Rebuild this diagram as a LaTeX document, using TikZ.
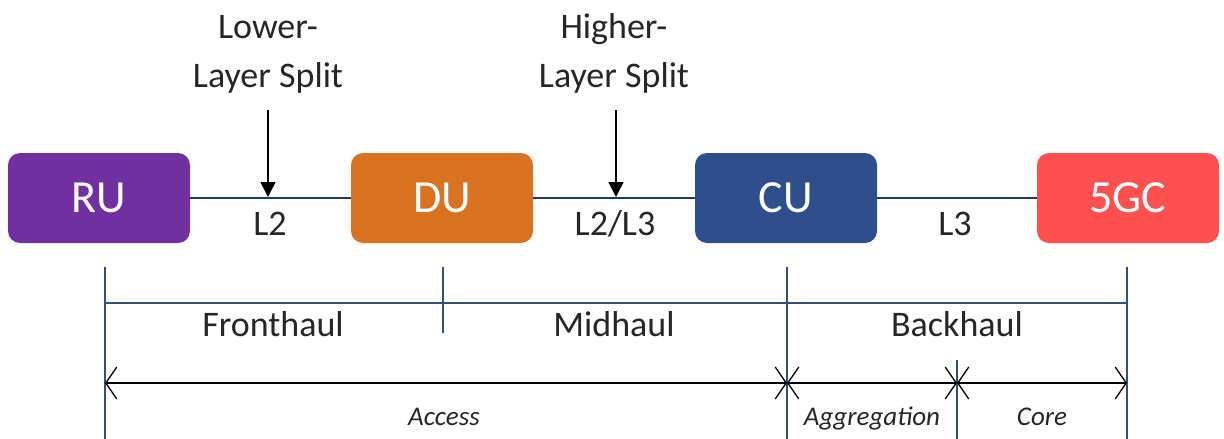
\documentclass[tikz,border=0pt]{standalone}
\usepackage{fontspec}
\setmainfont{Carlito}
\usetikzlibrary{arrows.meta,positioning}
\definecolor{ruPurple}{HTML}{7030A0}
\definecolor{duOrange}{HTML}{DA7321}
\definecolor{cuBlue}{HTML}{2F4E8C}
\definecolor{coreRed}{HTML}{FF5050}
\definecolor{linkNavy}{HTML}{1F3A60}
\definecolor{tickNavy}{HTML}{34507A}
\definecolor{txt}{HTML}{262626}

\begin{document}
\begin{tikzpicture}[x=1pt,y=-1pt,
    unit/.style={rounded corners=12pt, minimum width=182pt, minimum height=90pt,
        inner sep=0pt, text=white, font=\fontsize{46}{50}\selectfont},
    lbl/.style={text=txt, inner sep=0pt, font=\fontsize{36}{49}\selectfont},
    zone/.style={text=txt, inner sep=0pt, font=\itshape\fontsize{27}{30}\selectfont},
    link/.style={draw=linkNavy, line width=2.5pt},
    tick/.style={draw=tickNavy, line width=1.6pt},
    span/.style={draw=black, line width=1.3pt, {Straight Barb[length=11pt,width=32pt]}-{Straight Barb[length=11pt,width=32pt]}}
]
\useasboundingbox (0,0) rectangle (1224,439);

% units
\node[unit, fill=ruPurple] (ru) at (99, 198) {RU};
\node[unit, fill=duOrange] (du) at (442, 198) {DU};
\node[unit, fill=cuBlue] (cu) at (786, 198) {CU};
\node[unit, fill=coreRed] (gc) at (1128, 198) {5GC};
\draw[link] (ru) -- (du) (du) -- (cu) (cu) -- (gc);

% splits
\node[lbl, align=center, anchor=base] (lls) at (268, 87) {Lower-\\Layer Split};
\node[lbl, align=center, anchor=base] (hls) at (614, 87) {Higher-\\Layer Split};
\coordinate (lls top) at (268, 110);
\coordinate (lls bot) at (268, 197);
\coordinate (hls top) at (616, 110);
\coordinate (hls bot) at (616, 197);
\draw[line width=1.5pt, -{Triangle[length=15pt,width=15pt]}] (lls top) -- (lls bot);
\draw[line width=1.5pt, -{Triangle[length=15pt,width=15pt]}] (hls top) -- (hls bot);
\node[lbl, anchor=base] (l2) at (270, 235) {L2};
\node[lbl, anchor=base] (l2l3) at (615, 235) {L2/L3};
\node[lbl, anchor=base] (l3) at (955, 235) {L3};

% haul
\coordinate (t1) at (105, 267);
\coordinate (t2) at (443, 267);
\coordinate (t3) at (787, 267);
\coordinate (t4) at (1127, 267);
\draw[tick] (t1) -- (105, 439);
\draw[tick] (t2) -- (443, 333);
\draw[tick] (t3) -- (787, 439);
\draw[tick] (t4) -- (1127, 439);
\draw[tick] (105, 303) -- (1127, 303);
\node[lbl, anchor=base] (fh) at (273, 336) {Fronthaul};
\node[lbl, anchor=base] (mh) at (614, 336) {Midhaul};
\node[lbl, anchor=base] (bh) at (957, 336) {Backhaul};

% network zones
\coordinate (z1) at (105, 383);
\coordinate (z2) at (787, 383);
\coordinate (z3) at (957, 383);
\coordinate (z4) at (1127, 383);
\draw[tick] (957, 360) -- (957, 439);
\draw[span] (z1) -- (z2);
\draw[span] (z2) -- (z3);
\draw[span] (z3) -- (z4);
\node[zone, anchor=base] (acc) at (444, 425) {Access};
\node[zone, anchor=base] (agg) at (872, 425) {Aggregation};
\node[zone, anchor=base] (cor) at (1042, 425) {Core};
\end{tikzpicture}
\end{document}
